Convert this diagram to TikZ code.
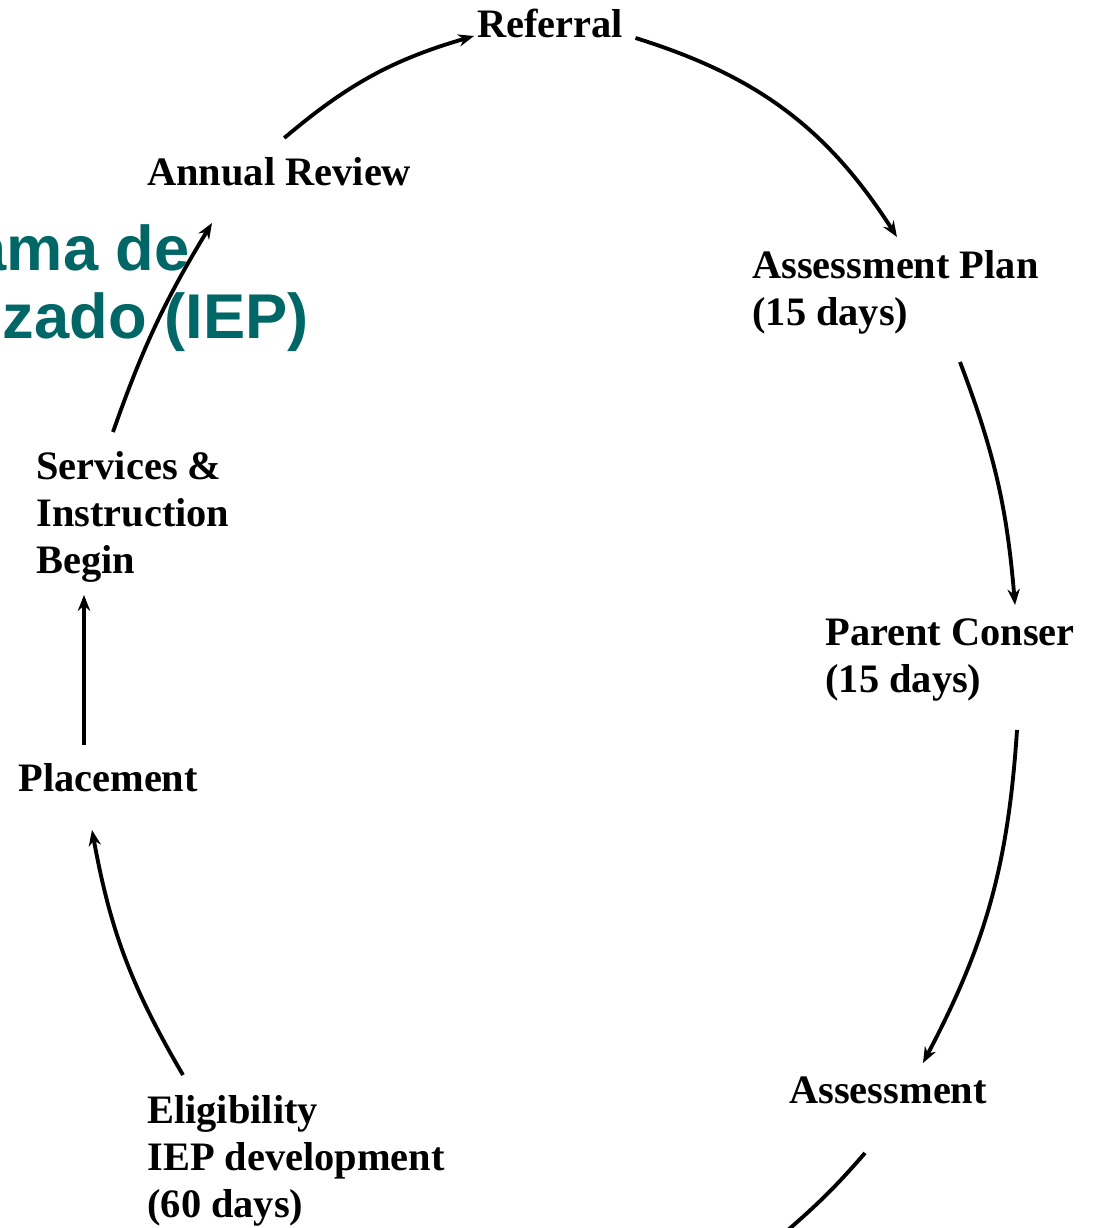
\documentclass[tikz,border=0pt]{standalone}
\usepackage{fontspec}
\setmainfont{Liberation Serif}
\newfontfamily\iepsans{Liberation Sans}
\usetikzlibrary{arrows.meta,calc}
\definecolor{iepteal}{RGB}{0,102,102}

\tikzset{
  stage/.style={anchor=base west, inner sep=0pt, align=left,
    font=\fontsize{23}{26.7}\selectfont\bfseries},
  banner/.style={anchor=base east, inner sep=0pt, text=iepteal,
    font=\fontsize{36}{40}\selectfont\iepsans\bfseries},
  cyc/.style={line width=2.2pt, -{Stealth[length=9pt,width=7pt]}},
}

\begin{document}
\begin{tikzpicture}[x=0.02cm, y=-0.02cm]
  \useasboundingbox (0,0) rectangle (1097,1228);

  % title, cut off at the left edge
  \node[banner] (title1) at (190,270) {ama de};
  \node[banner] (title2) at (309,338) {zado (IEP)};

  % the steps of the cycle (base = last line)
  \node[stage] (referral) at (477,37) {Referral};
  \node[stage] (asplan) at (752,325) {Assessment Plan\\(15 days)};
  \node[stage] (consent) at (825,692) {Parent Conser\\(15 days)};
  \node[stage] (assess) at (789,1103) {Assessment};
  \node[stage] (elig) at (147,1217) {Eligibility\\IEP development\\(60 days)};
  \node[stage] (placement) at (18,791) {Placement};
  \node[stage] (services) at (36,573) {Services \&\\Instruction\\Begin};
  \node[stage] (annual) at (147,185) {Annual Review};
  \coordinate (offpage) at (788,1230);

  \draw[cyc] ($(annual.base)+(5,-47)$) to[bend left=12] ($(referral.base west)+(-3,-1)$);
  \draw[cyc] ($(referral.base east)+(12,1)$) to[bend left=20] ($(asplan.base west)+(145,-88)$);
  \draw[cyc] ($(asplan.base west)+(208,37)$) to[bend left=8] ($(consent.base west)+(190,-87)$);
  \draw[cyc] ($(consent.base west)+(192,38)$) to[bend left=12] ($(assess.base west)+(134,-40)$);
  \draw[line width=2.2pt] ($(assess.base west)+(76,50)$) to[bend left=4] (offpage);
  \draw[cyc] ($(elig.base west)+(36,-142)$) to[bend left=10] ($(placement.base west)+(74,39)$);
  \draw[cyc] ($(placement.base west)+(66,-46)$) -- ($(services.base west)+(48,22)$);
  \draw[cyc] ($(services.base west)+(77,-141)$) to[bend left=6] ($(annual.base west)+(65,38)$);
\end{tikzpicture}
\end{document}
